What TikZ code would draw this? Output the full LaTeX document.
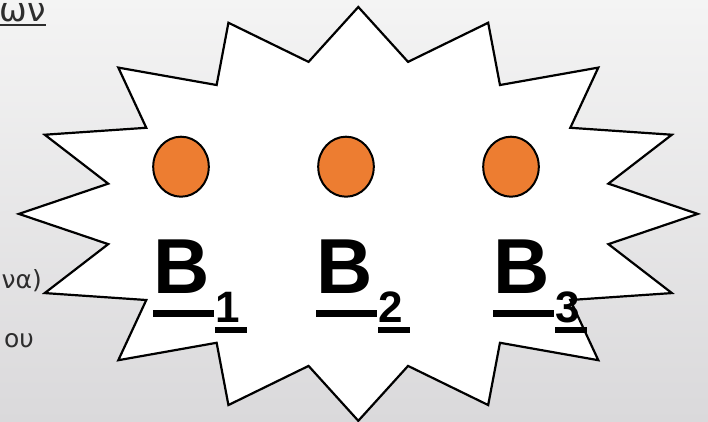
\documentclass[tikz,border=0pt]{standalone}
\usepackage{fontspec}
\usepackage{tikz}
\usetikzlibrary{positioning,shapes.geometric}
\usepackage{xcolor}

\newfontfamily\labelfont{Liberation Sans}
\newfontfamily\greekfont{DejaVu Sans}

\definecolor{bgtop}{RGB}{244,244,244}
\definecolor{bgbottom}{RGB}{218,217,219}
\definecolor{dotorange}{RGB}{237,125,49}
\definecolor{textgray}{RGB}{45,45,45}

\newsavebox\titlebox
\newcommand{\titleul}[1]{\sbox\titlebox{#1}\rlap{\rule[-4.5pt]{\wd\titlebox}{2pt}}\usebox\titlebox}
\newcommand{\bigul}[1]{\rlap{\rule[-24pt]{61pt}{7.5pt}}\makebox[62pt][l]{#1}}
\newcommand{\subul}[1]{\rlap{\rule[-11pt]{32pt}{6pt}}#1}
\newcommand{\blabel}[1]{\bigul{B}\raisebox{-29pt}{\fontsize{44}{44}\selectfont\subul{#1}}}

\begin{document}
\begin{tikzpicture}[
    x=1pt, y=-1pt,
    burst/.style={draw=black, fill=white, line width=2.2pt, line join=miter},
    dot/.style={ellipse, draw=black, fill=dotorange, line width=2pt, minimum width=55.6pt, minimum height=60pt, inner sep=0pt},
    lbl/.style={inner sep=0pt, anchor=base west, font=\labelfont\bfseries\fontsize{78}{78}\selectfont},
    txt/.style={inner sep=0pt, anchor=base east, text=textgray, font=\greekfont\fontsize{25}{25}\selectfont},
    node distance=107.4pt
]
\useasboundingbox (0,0) rectangle (708,422);
\clip (0,0) rectangle (708,422);
\shade[top color=bgtop, bottom color=bgbottom] (0,0) rectangle (708,422);

% left-hand text, cut off by the slide edge
\node[txt, font=\greekfont\fontsize{33}{33}\selectfont] (title) at (46,22) {\titleul{ων}};
\node[txt] (line1) at (42,288) {να)};
\node[txt] (line2) at (34,347) {ου};

% sixteen-point burst
\draw[burst] (358.3,7) \foreach \k in {0,...,15}{
    -- ({358.3+255*cos(101.25+22.5*\k)},{213.9-155*sin(101.25+22.5*\k)})
    -- ({358.3+339.4*cos(112.5+22.5*\k)},{213.9-206.9*sin(112.5+22.5*\k)})
  } -- cycle;

\node[dot] (d1) at (181,166.7) {};
\node[dot, right=of d1] (d2) {};
\node[dot, right=of d2] (d3) {};

\node[lbl] (b1) at (153,293) {\blabel{1}};
\node[lbl] (b2) at (316,293) {\blabel{2}};
\node[lbl] (b3) at (493,293) {\blabel{3}};

\end{tikzpicture}
\end{document}
